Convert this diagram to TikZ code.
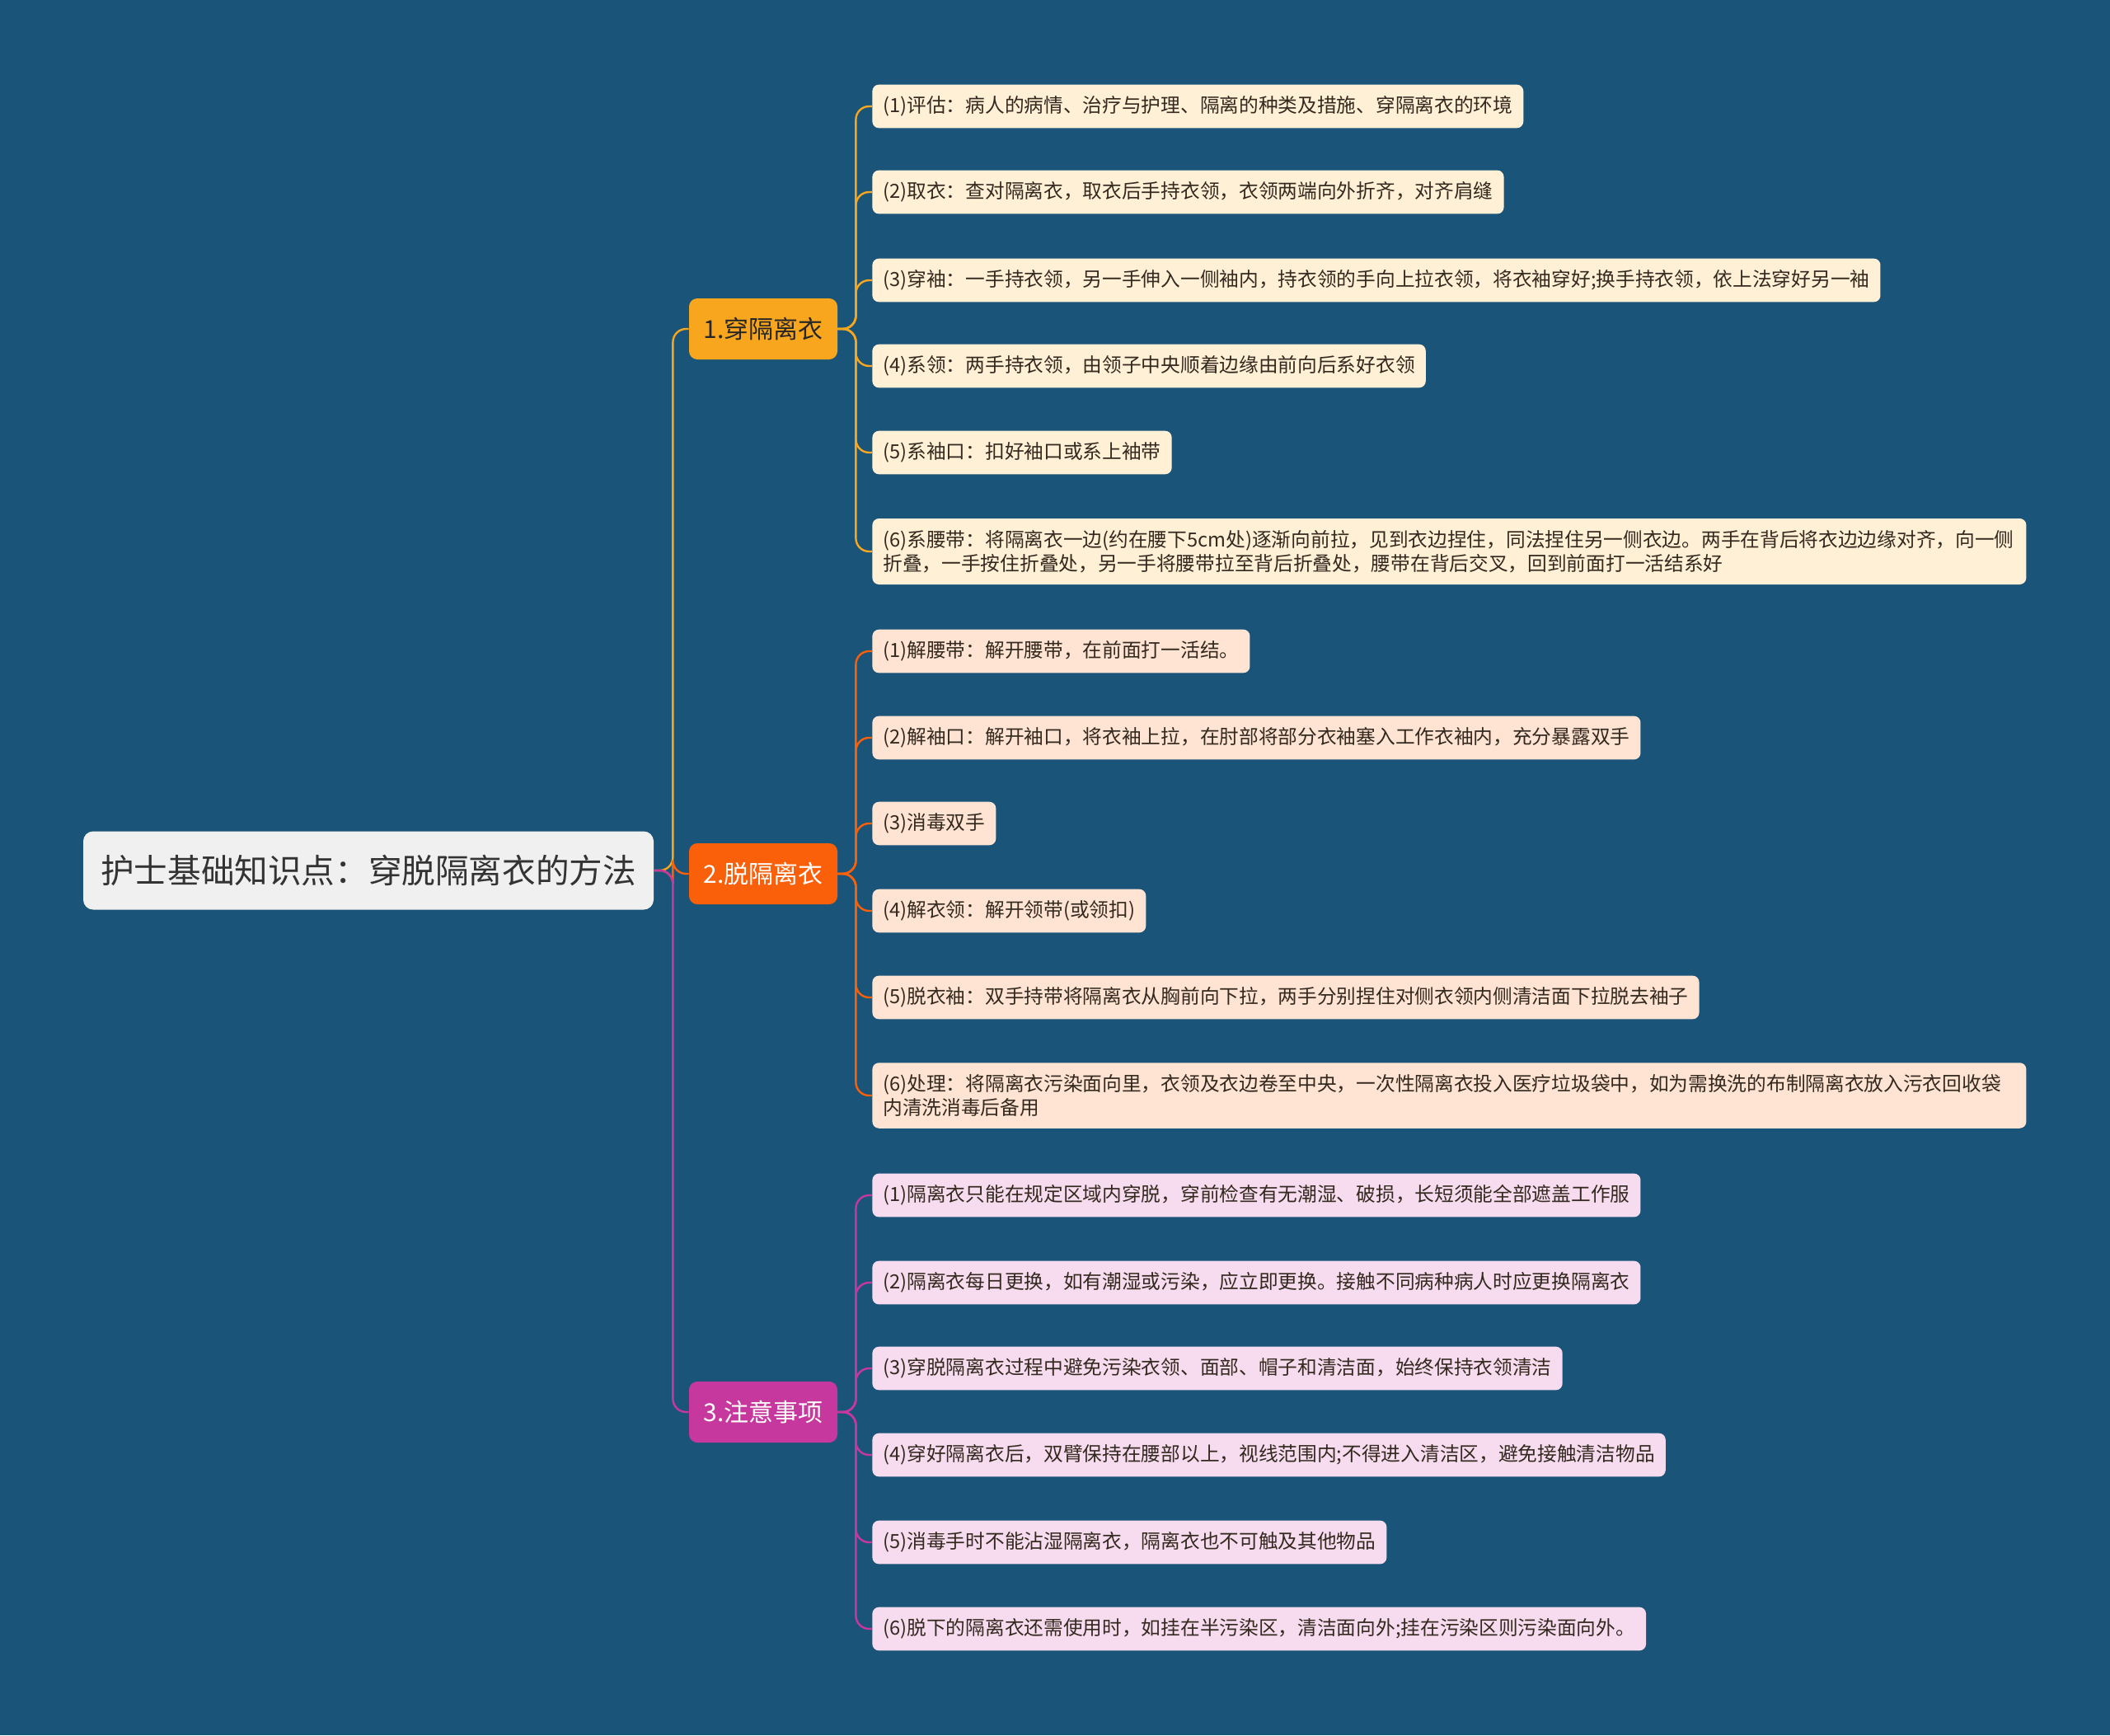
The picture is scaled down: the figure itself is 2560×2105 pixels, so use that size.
\documentclass[tikz,border=0pt]{standalone}
\usepackage{fontspec}
\setmainfont{Noto Sans CJK SC}
\usetikzlibrary{positioning}
\definecolor{bgblue}{HTML}{1B5479}
\definecolor{rootfill}{HTML}{F0F0F0}
\definecolor{wearcol}{HTML}{F8A61E}
\definecolor{offcol}{HTML}{FA5F0A}
\definecolor{notecol}{HTML}{C6389D}
\definecolor{wearleaf}{HTML}{FFF0D6}
\definecolor{offleaf}{HTML}{FFE3D3}
\definecolor{noteleaf}{HTML}{F6DCEE}
\definecolor{leaftext}{HTML}{33291F}

\begin{document}
\begin{tikzpicture}[x=0.5pt,y=-0.5pt]
  \tikzset{
    rootbox/.style={rectangle,rounded corners=6pt,fill=rootfill,text=black!80,
      minimum width=346pt,minimum height=47.5pt,font=\fontsize{20.3pt}{24pt}\selectfont},
    topic/.style={rectangle,rounded corners=5pt,minimum width=90pt,minimum height=37pt,
      font=\fontsize{15pt}{18pt}\selectfont},
    leaf/.style={rectangle,rounded corners=4pt,anchor=west,align=left,text=leaftext,
      inner xsep=6.5pt,inner ysep=7pt,minimum height=26pt,
      font=\fontsize{11.85pt}{14.7pt}\selectfont},
    wide/.style={text width=687pt},
    link/.style={line width=1.2pt,rounded corners=8pt},
  }
  \useasboundingbox[fill=bgblue] (0,0) rectangle (2560,2105);

  % root and the three topics
  \node[rootbox] (root) at (447,1056) {护士基础知识点：穿脱隔离衣的方法};
  \node[topic,fill=wearcol,text=black!85] (wear) at (926,399) {1.穿隔离衣};
  \node[topic,fill=offcol,text=white] (off) at (926,1060) {2.脱隔离衣};
  \node[topic,fill=notecol,text=white] (note) at (926,1713) {3.注意事项};

  % 1. wearing
  \node[leaf,fill=wearleaf] (w1) at (1058,129) {(1)评估：病人的病情、治疗与护理、隔离的种类及措施、穿隔离衣的环境};
  \node[leaf,fill=wearleaf] (w2) at (1058,233) {(2)取衣：查对隔离衣，取衣后手持衣领，衣领两端向外折齐，对齐肩缝};
  \node[leaf,fill=wearleaf] (w3) at (1058,340) {(3)穿袖：一手持衣领，另一手伸入一侧袖内，持衣领的手向上拉衣领，将衣袖穿好;换手持衣领，依上法穿好另一袖};
  \node[leaf,fill=wearleaf] (w4) at (1058,444) {(4)系领：两手持衣领，由领子中央顺着边缘由前向后系好衣领};
  \node[leaf,fill=wearleaf] (w5) at (1058,549) {(5)系袖口：扣好袖口或系上袖带};
  \node[leaf,wide,fill=wearleaf] (w6) at (1058,669) {(6)系腰带：将隔离衣一边(约在腰下5cm处)逐渐向前拉，见到衣边捏住，同法捏住另一侧衣边。两手在背后将衣边边缘对齐，向一侧\\折叠，一手按住折叠处，另一手将腰带拉至背后折叠处，腰带在背后交叉，回到前面打一活结系好};

  % 2. taking off
  \node[leaf,fill=offleaf] (o1) at (1058,790) {(1)解腰带：解开腰带，在前面打一活结。};
  \node[leaf,fill=offleaf] (o2) at (1058,895) {(2)解袖口：解开袖口，将衣袖上拉，在肘部将部分衣袖塞入工作衣袖内，充分暴露双手};
  \node[leaf,fill=offleaf] (o3) at (1058,999) {(3)消毒双手};
  \node[leaf,fill=offleaf] (o4) at (1058,1105) {(4)解衣领：解开领带(或领扣)};
  \node[leaf,fill=offleaf] (o5) at (1058,1210) {(5)脱衣袖：双手持带将隔离衣从胸前向下拉，两手分别捏住对侧衣领内侧清洁面下拉脱去袖子};
  \node[leaf,wide,fill=offleaf] (o6) at (1058,1329) {(6)处理：将隔离衣污染面向里，衣领及衣边卷至中央，一次性隔离衣投入医疗垃圾袋中，如为需换洗的布制隔离衣放入污衣回收袋\\内清洗消毒后备用};

  % 3. notes
  \node[leaf,fill=noteleaf] (n1) at (1058,1450) {(1)隔离衣只能在规定区域内穿脱，穿前检查有无潮湿、破损，长短须能全部遮盖工作服};
  \node[leaf,fill=noteleaf] (n2) at (1058,1556) {(2)隔离衣每日更换，如有潮湿或污染，应立即更换。接触不同病种病人时应更换隔离衣};
  \node[leaf,fill=noteleaf] (n3) at (1058,1660) {(3)穿脱隔离衣过程中避免污染衣领、面部、帽子和清洁面，始终保持衣领清洁};
  \node[leaf,fill=noteleaf] (n4) at (1058,1765) {(4)穿好隔离衣后，双臂保持在腰部以上，视线范围内;不得进入清洁区，避免接触清洁物品};
  \node[leaf,fill=noteleaf] (n5) at (1058,1871) {(5)消毒手时不能沾湿隔离衣，隔离衣也不可触及其他物品};
  \node[leaf,fill=noteleaf] (n6) at (1058,1976) {(6)脱下的隔离衣还需使用时，如挂在半污染区，清洁面向外;挂在污染区则污染面向外。};

  % connectors
  \draw[link,wearcol] (root.east) -- ++(23,0) |- (wear.west);
  \draw[link,offcol] (root.east) -- ++(23,0) |- (off.west);
  \draw[link,notecol] (root.east) -- ++(23,0) |- (note.west);
  \foreach \k in {1,...,6} {
    \draw[link,wearcol] (wear.east) -- ++(22,0) |- (w\k.west);
    \draw[link,offcol] (off.east) -- ++(22,0) |- (o\k.west);
    \draw[link,notecol] (note.east) -- ++(22,0) |- (n\k.west);
  }
\end{tikzpicture}
\end{document}
